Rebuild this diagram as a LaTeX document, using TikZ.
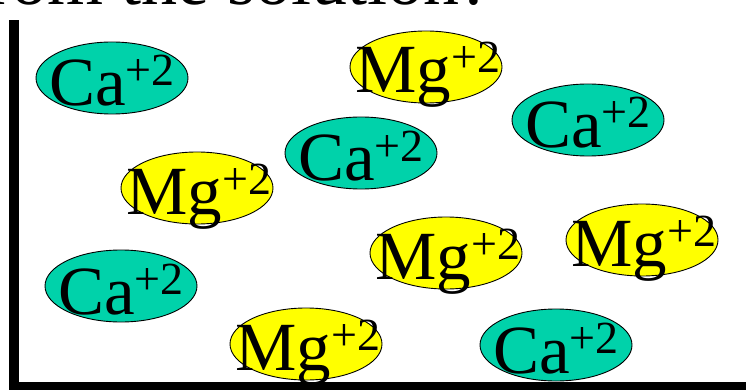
\documentclass[tikz,border=0pt]{standalone}
\usepackage{fontspec}
\setmainfont{Liberation Serif}
\usetikzlibrary{shapes.geometric}
\definecolor{caColor}{RGB}{0,210,170}
\definecolor{mgColor}{RGB}{255,255,0}
\newcommand{\ionlbl}[1]{#1\raisebox{20pt}{\fontsize{46}{46}\selectfont +2}}
\tikzset{
  ionshape/.style={ellipse, draw=black, line width=0.9pt, minimum width=152pt, minimum height=72pt, inner sep=0pt},
  caion/.style={ionshape, fill=caColor},
  mgion/.style={ionshape, fill=mgColor},
  ionlabel/.style={anchor=base, inner sep=0pt, font=\fontsize{69}{69}\selectfont},
  axisbar/.style={fill=black}
}
\begin{document}
\begin{tikzpicture}[x=1pt,y=-1pt]
\useasboundingbox (0,0) rectangle (746,390);
% title fragment (cut off at top)
\node[anchor=base east, inner sep=0pt, font=\fontsize{72}{72}\selectfont] (title) at (492,5) {from the solution?};
% axes
\fill[axisbar] (9,20) rectangle (19,390);
\fill[axisbar] (9,382) rectangle (746,390);
% ions
\node[caion] (c1) at (112,78) {};
\node[ionlabel] (tc1) at (112,106) {\ionlbl{Ca}};
\node[mgion] (m1) at (426,67) {};
\node[ionlabel] (tm1) at (428,93) {\ionlbl{Mg}};
\node[caion] (c2) at (588,120) {};
\node[ionlabel] (tc2) at (588,148) {\ionlbl{Ca}};
\node[caion] (c3) at (361,153) {};
\node[ionlabel] (tc3) at (361,181) {\ionlbl{Ca}};
\node[mgion] (m2) at (197,188) {};
\node[ionlabel] (tm2) at (199,214) {\ionlbl{Mg}};
\node[mgion] (m3) at (446,253) {};
\node[ionlabel] (tm3) at (448,279) {\ionlbl{Mg}};
\node[mgion] (m4) at (642,240) {};
\node[ionlabel] (tm4) at (644,266) {\ionlbl{Mg}};
\node[caion] (c4) at (121,286) {};
\node[ionlabel] (tc4) at (121,314) {\ionlbl{Ca}};
\node[mgion] (m5) at (306,344) {};
\node[ionlabel] (tm5) at (308,370) {\ionlbl{Mg}};
\node[caion] (c5) at (556,345) {};
\node[ionlabel] (tc5) at (556,373) {\ionlbl{Ca}};
\end{tikzpicture}
\end{document}
